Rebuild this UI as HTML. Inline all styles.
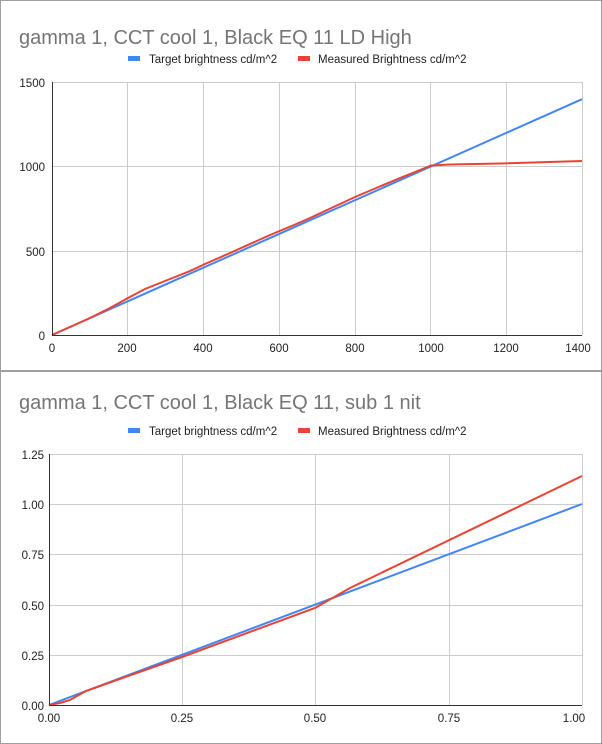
<!DOCTYPE html>
<html><head><style>body{margin:0;background:#fff}svg{display:block;font-family:"Liberation Sans",Arial,sans-serif}</style></head><body>
<svg width="602" height="744" viewBox="0 0 602 744">
<rect x="0.5" y="0.5" width="601" height="743" fill="#fff" stroke="#9e9e9e"/>
<rect x="0" y="370" width="602" height="2" fill="#9e9e9e"/>
<!-- top chart -->
<text x="19" y="44" font-size="20" fill="#757575">gamma 1, CCT cool 1, Black EQ 11 LD High</text>
<rect x="128" y="56" width="12" height="5" fill="#4285f4"/>
<text x="149" y="63" font-size="11.5" fill="#222">Target brightness cd/m^2</text>
<rect x="298" y="56" width="12" height="5" fill="#ea4335"/>
<text x="318" y="63" font-size="11.5" fill="#222">Measured Brightness cd/m^2</text>
<g stroke="#ccc" stroke-width="1">
<line x1="52" y1="82.5" x2="582" y2="82.5"/><line x1="52" y1="166.5" x2="582" y2="166.5"/><line x1="52" y1="251.5" x2="582" y2="251.5"/>
<line x1="127.5" y1="82" x2="127.5" y2="335"/><line x1="203.5" y1="82" x2="203.5" y2="335"/><line x1="279.5" y1="82" x2="279.5" y2="335"/><line x1="355.5" y1="82" x2="355.5" y2="335"/><line x1="430.5" y1="82" x2="430.5" y2="335"/><line x1="506.5" y1="82" x2="506.5" y2="335"/><line x1="582.5" y1="82" x2="582.5" y2="335"/>
</g>
<g font-size="11.5" fill="#222" text-anchor="end">
<text x="45" y="87">1500</text><text x="45" y="171">1000</text><text x="45" y="256">500</text><text x="45" y="340">0</text></g>
<g font-size="11.5" fill="#222" text-anchor="middle">
<text x="52" y="352">0</text><text x="127" y="352">200</text><text x="203" y="352">400</text><text x="279" y="352">600</text><text x="355" y="352">800</text><text x="431" y="352">1000</text><text x="506" y="352">1200</text><text x="578" y="352">1400</text></g>
<polyline fill="none" stroke="#4285f4" stroke-width="2" points="52,335 582,99.2"/>
<polyline fill="none" stroke="#ea4335" stroke-width="2" points="52,335 70,327 90,318 110,308 128,298 145,289 160,283 175,277 190,271 205,264 230,253 270,235 294,225 310,218 355,197 400,178 420,170 431,165.5 450,164.5 500,163.5 582,161"/>
<line x1="52" y1="335.5" x2="582" y2="335.5" stroke="#333"/><line x1="52.5" y1="82" x2="52.5" y2="335" stroke="#333"/>
<!-- bottom chart -->
<text x="19" y="409" font-size="20" fill="#757575">gamma 1, CCT cool 1, Black EQ 11, sub 1 nit</text>
<rect x="128" y="428" width="12" height="5" fill="#4285f4"/>
<text x="149" y="435" font-size="11.5" fill="#222">Target brightness cd/m^2</text>
<rect x="298" y="428" width="12" height="5" fill="#ea4335"/>
<text x="318" y="435" font-size="11.5" fill="#222">Measured Brightness cd/m^2</text>
<g stroke="#ccc" stroke-width="1">
<line x1="49" y1="454.5" x2="582" y2="454.5"/><line x1="49" y1="504.5" x2="582" y2="504.5"/><line x1="49" y1="554.5" x2="582" y2="554.5"/><line x1="49" y1="605.5" x2="582" y2="605.5"/><line x1="49" y1="655.5" x2="582" y2="655.5"/>
<line x1="182.5" y1="454" x2="182.5" y2="705"/><line x1="315.5" y1="454" x2="315.5" y2="705"/><line x1="449.5" y1="454" x2="449.5" y2="705"/><line x1="582.5" y1="454" x2="582.5" y2="705"/>
</g>
<g font-size="11.5" fill="#222" text-anchor="end">
<text x="44" y="459">1.25</text><text x="44" y="509">1.00</text><text x="44" y="559">0.75</text><text x="44" y="610">0.50</text><text x="44" y="660">0.25</text><text x="44" y="710">0.00</text></g>
<g font-size="11.5" fill="#222" text-anchor="middle">
<text x="49" y="722">0.00</text><text x="182" y="722">0.25</text><text x="315" y="722">0.50</text><text x="449" y="722">0.75</text><text x="574" y="722">1.00</text></g>
<polyline fill="none" stroke="#4285f4" stroke-width="2" points="49,705 582,504"/>
<polyline fill="none" stroke="#ea4335" stroke-width="2" points="49,705 60,703 70,700 77,696 86,691 100,686 182,657 315,608 350,588 582,476"/>
<line x1="49" y1="705.5" x2="582" y2="705.5" stroke="#333"/><line x1="49.5" y1="454" x2="49.5" y2="705" stroke="#333"/>
</svg>
</body></html>
